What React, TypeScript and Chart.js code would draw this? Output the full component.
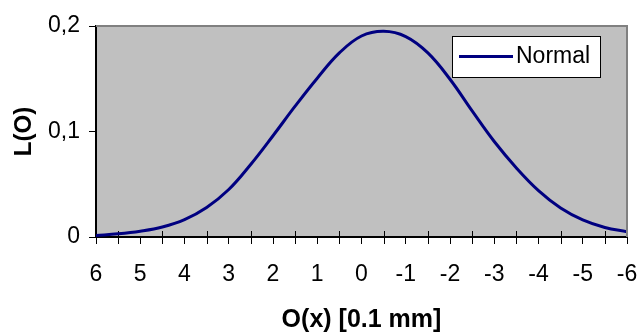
import { useEffect, useRef } from 'react';
import { Chart, registerables } from 'chart.js';

Chart.register(...registerables);

const xValues = [6, 5.5, 5, 4.5, 4, 3.5, 3, 2.5, 2, 1.5, 1, 0.5, 0, -0.5, -1, -1.5, -2, -2.5, -3, -3.5, -4, -4.5, -5, -5.5, -6];
const normalValues = [0.0015, 0.003, 0.0055, 0.0095, 0.0165, 0.028, 0.045, 0.069, 0.096, 0.124, 0.1505, 0.1745, 0.1905, 0.195, 0.19, 0.1745, 0.1495, 0.1195, 0.0905, 0.0655, 0.044, 0.0275, 0.0162, 0.009, 0.005];
const xTickValues = [6, 5, 4, 3, 2, 1, 0, -1, -2, -3, -4, -5, -6];
const xTickLabels = ['6', '5', '4', '3', '2', '1', '0', '-1', '-2', '-3', '-4', '-5', '-6'];
const xMinorTicks = [5.5, 4.5, 3.5, 2.5, 1.5, 0.5, -0.5, -1.5, -2.5, -3.5, -4.5, -5.5];
const yTickValues = [0, 0.1, 0.2];
const yTickLabels = ['0', '0,1', '0,2'];
const seriesLabel = 'Normal';
const xTitle = 'O(x) [0.1 mm]';
const yTitle = 'L(O)';

const FONT = "'Liberation Sans', Arial, sans-serif";
const LINE_COLOR = '#000080';

const plotPlugin = {
  id: 'plotDecor',
  beforeDraw(chart: any) {
    const { ctx, chartArea: a } = chart;
    ctx.save();
    ctx.fillStyle = '#C0C0C0';
    ctx.fillRect(a.left, a.top, a.right - a.left, a.bottom - a.top);
    ctx.restore();
  },
  beforeDatasetsDraw(chart: any) {
    const { ctx, chartArea: a } = chart;
    const xs = chart.scales.x;
    ctx.save();
    ctx.strokeStyle = '#000000';
    ctx.lineWidth = 1;
    ctx.beginPath();
    for (const v of xMinorTicks) {
      const px = Math.round(xs.getPixelForValue(v)) + 0.5;
      ctx.moveTo(px, a.bottom - 6);
      ctx.lineTo(px, a.bottom + 7);
    }
    ctx.stroke();
    ctx.restore();
  },
  afterDraw(chart: any) {
    const { ctx, chartArea: a } = chart;
    ctx.save();
    ctx.strokeStyle = '#808080';
    ctx.lineWidth = 2;
    ctx.beginPath();
    ctx.moveTo(a.left, a.top);
    ctx.lineTo(a.right, a.top);
    ctx.lineTo(a.right, a.bottom);
    ctx.stroke();
    const lx = a.right - 175;
    const ly = a.top + 10;
    const lw = 148;
    const lh = 41;
    ctx.fillStyle = '#FFFFFF';
    ctx.fillRect(lx, ly, lw, lh);
    ctx.strokeStyle = '#000000';
    ctx.lineWidth = 1;
    ctx.strokeRect(lx + 0.5, ly + 0.5, lw, lh);
    ctx.strokeStyle = LINE_COLOR;
    ctx.lineWidth = 3;
    ctx.beginPath();
    ctx.moveTo(lx + 7, ly + 20.5);
    ctx.lineTo(lx + 61, ly + 20.5);
    ctx.stroke();
    ctx.fillStyle = '#000000';
    ctx.font = `23px ${FONT}`;
    ctx.textBaseline = 'middle';
    ctx.textAlign = 'left';
    ctx.fillText(chart.data.datasets[0].label, lx + 64, ly + 21);
    ctx.restore();
  },
};

export default function App() {
  const ref = useRef<HTMLCanvasElement | null>(null);

  useEffect(() => {
    const canvas = ref.current;
    if (!canvas) return;
    const chart = new Chart(canvas, {
      type: 'line',
      data: {
        datasets: [
          {
            label: seriesLabel,
            data: xValues.map((x, i) => ({ x, y: normalValues[i] })),
            borderColor: LINE_COLOR,
            backgroundColor: LINE_COLOR,
            borderWidth: 3,
            pointRadius: 0,
            tension: 0.4,
            fill: false,
          },
        ],
      },
      options: {
        animation: false,
        responsive: false,
        maintainAspectRatio: false,
        layout: { padding: { top: 26, right: 12, left: 0, bottom: 0 } },
        plugins: {
          legend: { display: false },
          tooltip: { enabled: false },
        },
        scales: {
          x: {
            type: 'linear',
            reverse: true,
            min: -6,
            max: 6,
            afterBuildTicks: (scale: any) => {
              scale.ticks = xTickValues.map((v) => ({ value: v }));
            },
            afterFit: (scale: any) => {
              scale.height = 96;
              scale.paddingLeft = 0;
              scale.paddingRight = 0;
            },
            ticks: {
              autoSkip: false,
              maxRotation: 0,
              padding: 17,
              color: '#000000',
              font: { family: FONT, size: 23 },
              callback: (value: any) => {
                const i = xTickValues.indexOf(Number(value));
                return i >= 0 ? xTickLabels[i] : '';
              },
            },
            grid: {
              drawOnChartArea: false,
              drawTicks: true,
              tickLength: 7,
              color: '#000000',
              lineWidth: 1,
            },
            border: { display: true, color: '#000000', width: 2 },
            title: {
              display: true,
              text: xTitle,
              color: '#000000',
              font: { family: FONT, size: 25, weight: 'bold', lineHeight: 1 },
              padding: { top: 0, bottom: 0 },
            },
          },
          y: {
            type: 'linear',
            min: 0,
            max: 0.2,
            afterBuildTicks: (scale: any) => {
              scale.ticks = yTickValues.map((v) => ({ value: v }));
            },
            afterFit: (scale: any) => {
              scale.width = 96;
            },
            ticks: {
              padding: 9,
              color: '#000000',
              font: { family: FONT, size: 23 },
              callback: (value: any) => {
                const i = yTickValues.findIndex((v) => Math.abs(v - Number(value)) < 1e-9);
                return i >= 0 ? yTickLabels[i] : '';
              },
            },
            grid: {
              drawOnChartArea: false,
              drawTicks: true,
              tickLength: 7,
              color: '#000000',
              lineWidth: 1,
            },
            border: { display: true, color: '#000000', width: 2 },
            title: {
              display: true,
              text: yTitle,
              color: '#000000',
              font: { family: FONT, size: 24, weight: 'bold', lineHeight: 1 },
              padding: { top: 12, bottom: 0 },
            },
          },
        },
      },
      plugins: [plotPlugin],
    });
    return () => chart.destroy();
  }, []);

  return (
    <div style={{ position: 'fixed', left: 0, top: 0, width: 639, height: 333, background: '#FFFFFF' }}>
      <canvas ref={ref} width={639} height={333} style={{ width: 639, height: 333, display: 'block' }} />
    </div>
  );
}
